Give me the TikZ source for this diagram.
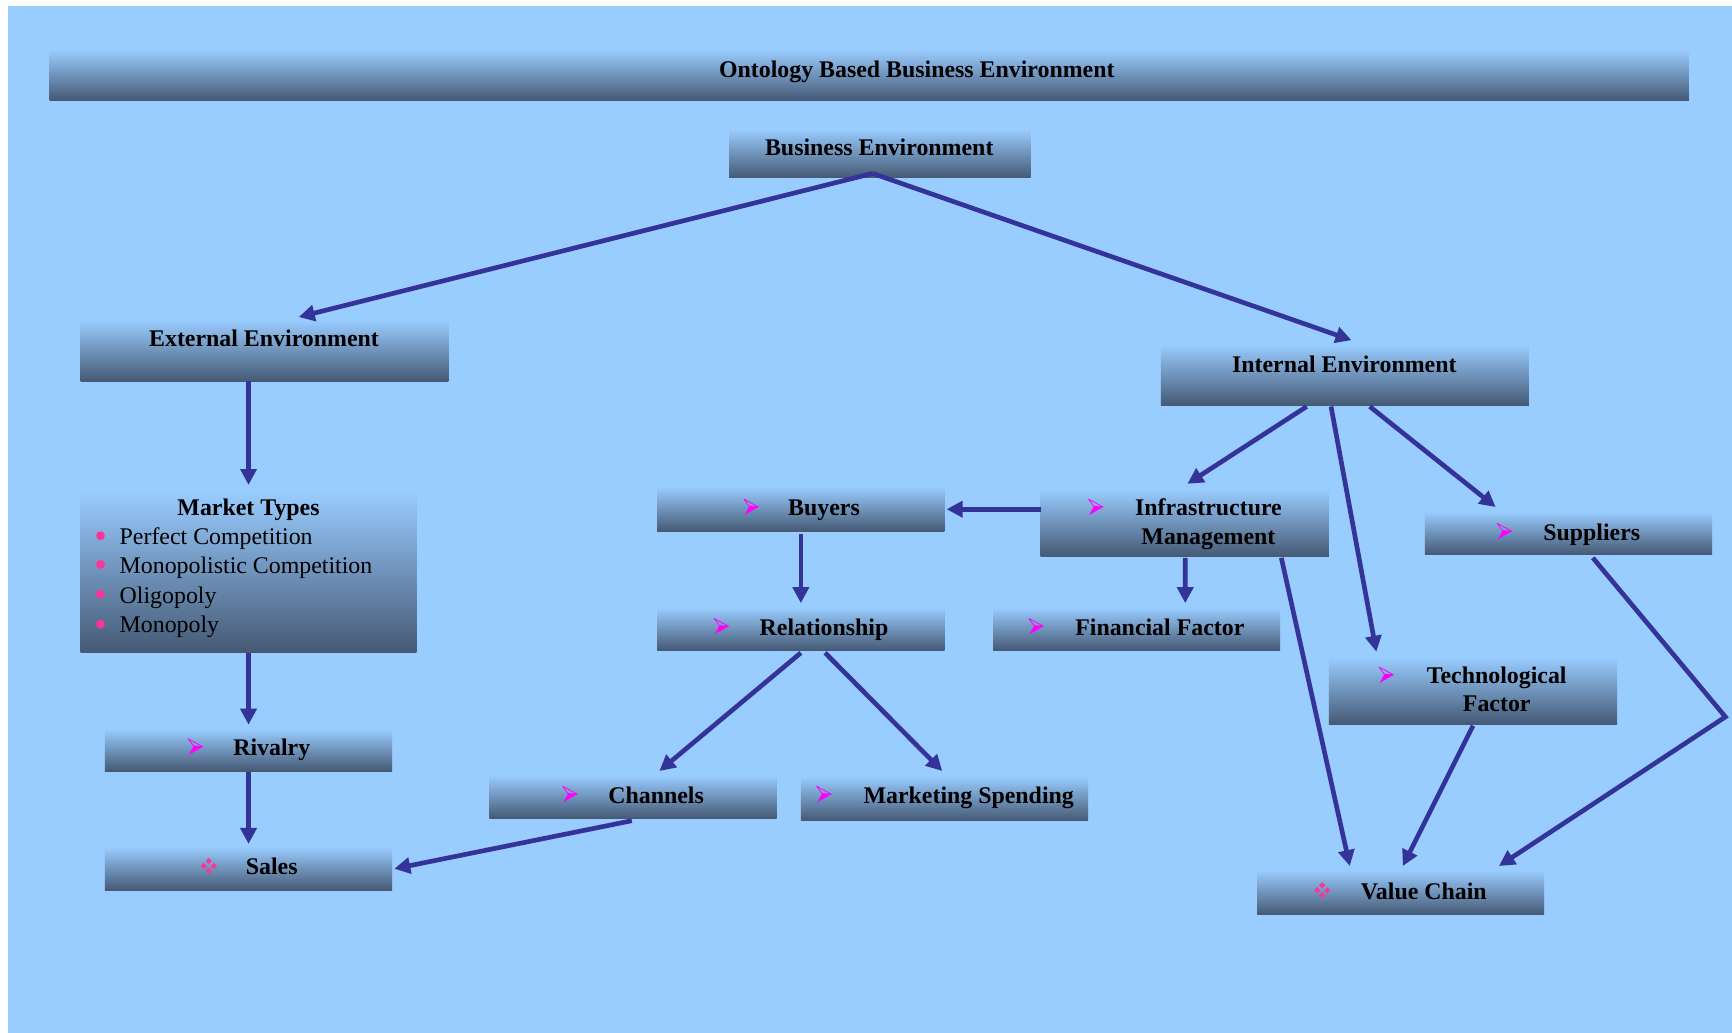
\documentclass[tikz,border=0pt]{standalone}
\usepackage{fontspec}
\setmainfont{Liberation Serif}
\usetikzlibrary{arrows.meta}
\definecolor{bgblue}{HTML}{99CCFF}
\definecolor{boxdark}{HTML}{455974}
\definecolor{linkblue}{HTML}{333399}
\definecolor{iconmag}{HTML}{FF00FF}
\definecolor{iconpink}{HTML}{FF3399}
\begin{document}
\begin{tikzpicture}[x=0.02cm,y=-0.02cm,
  box/.style 2 args={rectangle, inner sep=0pt, outer sep=0pt,
    top color=bgblue, bottom color=boxdark,
    minimum width=#1*0.02cm, minimum height=#2*0.02cm},
  lbl/.style={font=\bfseries\fontsize{12.3}{14.7}\selectfont, inner sep=0pt, anchor=base},
  item/.style={font=\fontsize{12.3}{14.7}\selectfont, inner sep=0pt, anchor=base west},
  link/.style={draw=linkblue, line width=2.4pt, -{Triangle[length=8.2pt,width=8.2pt]}},
  bullet/.pic={\fill[iconpink] (0,0) circle[radius=0.08cm];},
  ahead/.pic={
    \fill[iconmag] (-1.8,-0.6) -- (6.6,0) -- (-6,7.3) -- cycle;
    \draw[iconmag, line width=0.4pt, line join=round] (-6.6,-7.2) -- (6.6,0) -- (-1.8,-0.6) -- cycle;
  },
  diamonds/.pic={
    \foreach \dx/\dy in {0/-4.5, 4.5/0, 0/4.5, -4.5/0}
      \fill[iconpink] (\dx,\dy) +(0,-2.8) -- +(2.8,0) -- +(0,2.8) -- +(-2.8,0) -- cycle;
  }]

% canvas
\useasboundingbox (0,0) rectangle (1568,935);
\fill[white] (0,0) rectangle (1568,935);
\fill[bgblue] (7.6,5.4) rectangle (1568,935);

% boxes
\node[box={1484}{46}] (title) at (787,68) {};
\node[box={273}{44}] (be) at (796.5,139) {};
\node[box={333}{55}] (ext) at (239.5,317.5) {};
\node[box={333}{55}] (int) at (1217.5,339.5) {};
\node[box={304}{146}] (mt) at (225,518) {};
\node[box={260}{40}] (buy) at (725,461) {};
\node[box={261}{61}] (infra) at (1072.5,473.5) {};
\node[box={260}{39}] (sup) at (1420,482.5) {};
\node[box={260}{39}] (rel) at (725,569.5) {};
\node[box={260}{39}] (fin) at (1029,569.5) {};
\node[box={261}{61}] (tech) at (1333.5,625.5) {};
\node[box={260}{38}] (riv) at (225,679) {};
\node[box={260}{39}] (chan) at (573,721.5) {};
\node[box={260}{40}] (mkt) at (855,723) {};
\node[box={260}{39}] (sales) at (225,786.5) {};
\node[box={260}{40}] (vc) at (1268,808) {};

% labels
\node[lbl] (t-title) at (830,70) {Ontology Based Business Environment};
\node[lbl] (t-be) at (796,141) {Business Environment};
\node[lbl] (t-ext) at (239,314) {External Environment};
\node[lbl] (t-int) at (1217,337) {Internal Environment};
\node[lbl] (t-mt) at (225,467) {Market Types};
\node[item] (t-mt1) at (108,493) {Perfect Competition};
\node[item] (t-mt2) at (108,519) {Monopolistic Competition};
\node[item] (t-mt3) at (108,546) {Oligopoly};
\node[item] (t-mt4) at (108,573) {Monopoly};
\node[lbl] (t-buy) at (746,467) {Buyers};
\node[lbl] (t-infra1) at (1094,467) {Infrastructure};
\node[lbl] (t-infra2) at (1094,493) {Management};
\node[lbl] (t-sup) at (1441,489) {Suppliers};
\node[lbl] (t-rel) at (746,575) {Relationship};
\node[lbl] (t-fin) at (1050,575) {Financial Factor};
\node[lbl] (t-tech1) at (1355,619) {Technological};
\node[lbl] (t-tech2) at (1355,644) {Factor};
\node[lbl] (t-riv) at (246,684) {Rivalry};
\node[lbl] (t-chan) at (594,727) {Channels};
\node[lbl] (t-mkt) at (877,727) {Marketing Spending};
\node[lbl] (t-sales) at (246,792) {Sales};
\node[lbl] (t-vc) at (1289,814) {Value Chain};

% markers
\foreach \y in {485,511,538,565} \pic at (91,\y) {bullet};
\pic at (680,459) {ahead};
\pic at (992,459) {ahead};
\pic at (1362,481) {ahead};
\pic at (653,567) {ahead};
\pic at (938,567) {ahead};
\pic at (1255,611) {ahead};
\pic at (177,676) {ahead};
\pic at (516,719) {ahead};
\pic at (746,719) {ahead};
\pic at (189,784) {diamonds};
\pic at (1197,806) {diamonds};

% connectors
\draw[link] ([shift={(-6.5,-4)}]be.south) -- ([shift={(31,-3)}]ext.north);
\draw[link] ([shift={(-6.5,-4)}]be.south) -- ([shift={(6,-4)}]int.north);
\draw[link] ([shift={(-14.5,0)}]ext.south) -- ([shift={(0,-6)}]mt.north);
\draw[link] (mt.south) -- ([shift={(0,-4)}]riv.north);
\draw[link] ([shift={(0,1)}]riv.south) -- ([shift={(0,-3)}]sales.north);
\draw[link] ([shift={(-1,2)}]chan.south) -- ([shift={(2,0)}]sales.east);
\draw[link] ([shift={(-34.5,1)}]int.south) -- ([shift={(2.5,-5)}]infra.north);
\draw[link] ([shift={(-12.5,1)}]int.south) -- ([shift={(-87.5,-5)}]tech.north);
\draw[link] ([shift={(22.5,1)}]int.south) -- ([shift={(-66,-4)}]sup.north);
\draw[link] ([shift={(0,-12.5)}]infra.west) -- ([shift={(2,0)}]buy.east);
\draw[link] ([shift={(0.5,1)}]infra.south) -- ([shift={(44,-4)}]fin.north);
\draw[link] ([shift={(87.5,1)}]infra.south) -- ([shift={(-46,-4)}]vc.north);
\draw[link] ([shift={(0,2)}]buy.south) -- ([shift={(0,-4)}]rel.north);
\draw[link] ([shift={(0,2)}]rel.south) -- ([shift={(24,-4)}]chan.north);
\draw[link] ([shift={(22,2)}]rel.south) -- ([shift={(-2,-5)}]mkt.north);
\draw[link] ([shift={(0,1)}]tech.south) -- ([shift={(2,-4)}]vc.north);
\coordinate (bend) at (1562,649);
\draw[link] ([shift={(22,3)}]sup.south) -- (bend) -- ([shift={(89,-4)}]vc.north);
\end{tikzpicture}
\end{document}
